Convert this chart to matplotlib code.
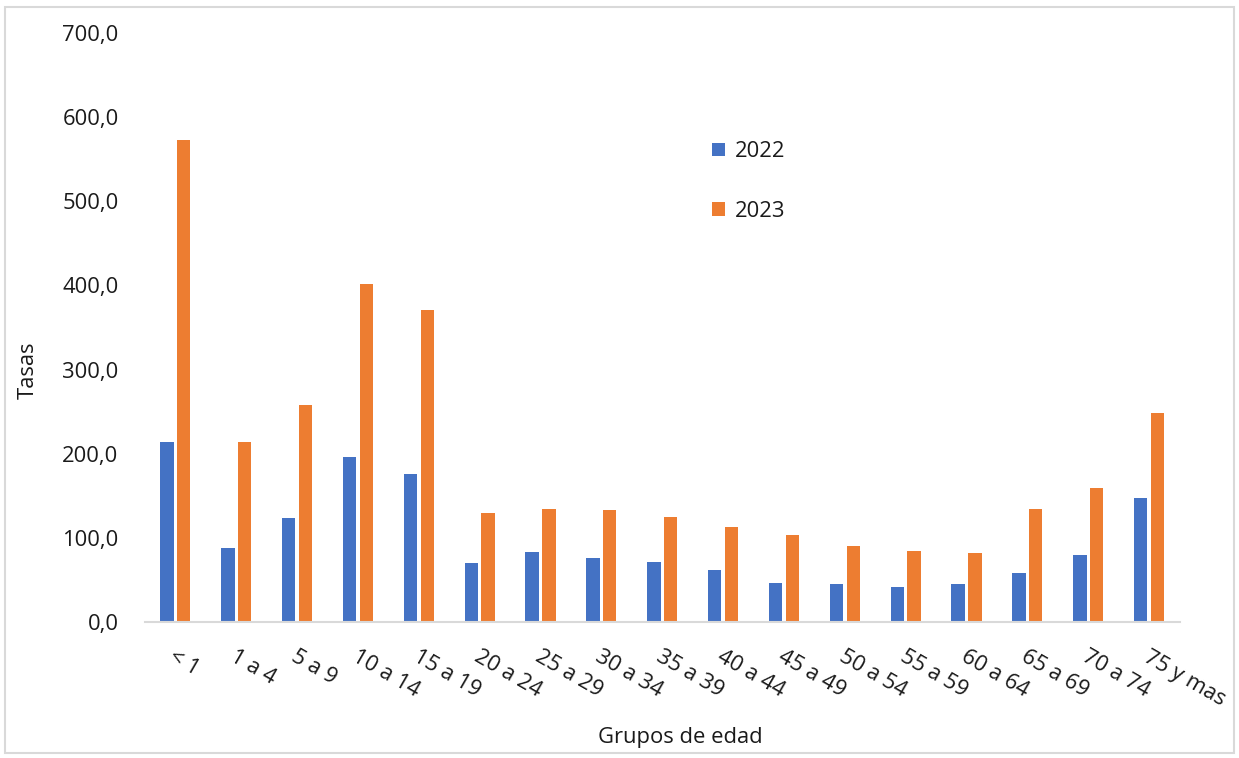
import matplotlib
matplotlib.use("Agg")
import matplotlib.pyplot as plt
from matplotlib.patches import Rectangle
import numpy as np

plt.rcParams['font.family'] = ['Open Sans', 'DejaVu Sans']

categories = ["< 1", "1 a 4", "5 a 9", "10 a 14", "15 a 19", "20 a 24", "25 a 29",
              "30 a 34", "35 a 39", "40 a 44", "45 a 49", "50 a 54", "55 a 59",
              "60 a 64", "65 a 69", "70 a 74", "75 y mas"]
vals_2022 = [214, 88, 124, 196, 176, 70, 83, 76, 72, 62, 47, 45, 42, 45, 59, 80, 148]
vals_2023 = [573, 214, 258, 402, 371, 130, 134, 133, 125, 113, 104, 91, 85, 82, 134, 159, 249]
series_labels = ["2022", "2023"]
yticks = [0, 100, 200, 300, 400, 500, 600, 700]

FS = 15.8
TXT = "#1a1a1a"

fig = plt.figure(figsize=(12.39, 7.58), dpi=100)
ax = fig.add_axes([0.117, 0.179, 0.835, 0.778])

x = np.arange(len(categories))
w = 0.22
off = 0.138
ax.bar(x - off, vals_2022, width=w, color="#4472C4", label=series_labels[0], zorder=2)
ax.bar(x + off, vals_2023, width=w, color="#ED7D31", label=series_labels[1], zorder=2)

ax.set_xlim(-0.5, len(categories) - 0.5)
ax.set_ylim(0, 700)
ax.set_yticks(yticks)
ax.set_yticklabels([f"{v},0" for v in yticks], fontsize=FS, color=TXT)
ax.tick_params(axis='y', length=0, pad=19)
ax.set_xticks(x)
ax.set_xticklabels([])
ax.tick_params(axis='x', length=0)

for xi, lab in zip(x, categories):
    ax.annotate(lab, xy=(xi, 0), xycoords=('data', 'data'),
                xytext=(-3, -24), textcoords='offset points',
                rotation=-30, rotation_mode='anchor', ha='left', va='center',
                fontsize=FS, color=TXT)

for s in ['top', 'right', 'left']:
    ax.spines[s].set_visible(False)
ax.spines['bottom'].set_color("#d9d9d9")
ax.spines['bottom'].set_linewidth(1.5)

fig.text(28 / 1239, 1 - 370 / 758, "Tasas", rotation=90, ha='center', va='center',
         fontsize=FS, color=TXT)
fig.text(680 / 1239, 1 - 737 / 758, "Grupos de edad", ha='center', va='center',
         fontsize=FS, color=TXT)

leg = ax.legend(loc='upper left', bbox_to_anchor=(548 / 1035, 1 - 89 / 590),
                frameon=False, fontsize=FS, handlelength=0.55, handleheight=0.55,
                handletextpad=0.45, labelspacing=1.75)
for t in leg.get_texts():
    t.set_color(TXT)

fig.patches.append(Rectangle((5 / 1239, 5 / 758), 1 - 10 / 1239, 1 - 12 / 758,
                             transform=fig.transFigure, fill=False,
                             edgecolor="#d9d9d9", linewidth=1.5))

fig.savefig("out.png", dpi=100, facecolor="white")
